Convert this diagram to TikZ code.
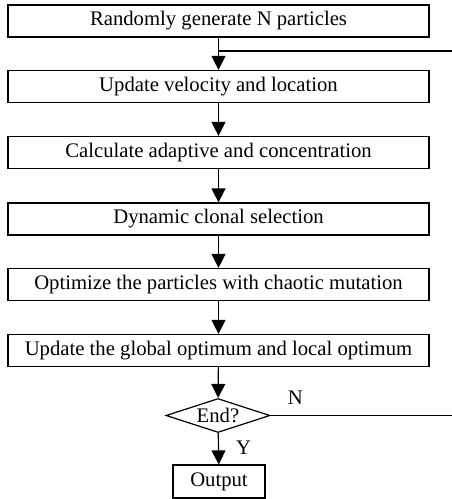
\documentclass[tikz,border=0pt]{standalone}
\usepackage{fontspec}
\setmainfont{Liberation Serif}
\usetikzlibrary{shapes.geometric,arrows.meta}
\begin{document}
\begin{tikzpicture}[x=1pt,y=-1pt,
  line width=1.2pt,
  every node/.style={font=\fontsize{20.7}{23}\selectfont, inner sep=0pt},
  procbox/.style={draw, minimum width=421pt, minimum height=32pt},
  smallbox/.style={draw, minimum width=92pt, minimum height=33pt},
  decision/.style={draw, diamond, aspect=3.06, minimum width=104pt, minimum height=34pt, inner sep=0pt},
  flow/.style={-{Triangle[width=14pt,length=14pt]}},
  lbl/.style={font=\fontsize{20.7}{23}\selectfont}
]
\useasboundingbox (0,0) rectangle (452,499);
\node[procbox] (gen) at (218.5,21) {Randomly generate N particles};
\node[procbox] (upd) at (218.5,86.5) {Update velocity and location};
\node[procbox] (calc) at (218.5,152.5) {Calculate adaptive and concentration};
\node[procbox] (clon) at (218.5,219) {Dynamic clonal selection};
\node[procbox] (opt) at (218.5,284.5) {Optimize the particles with chaotic mutation};
\node[procbox] (glob) at (218.5,350.5) {Update the global optimum and local optimum};
\node[decision] (end) at (218,415.5) {End?};
\node[smallbox] (out) at (219,481.5) {Output};
\coordinate (loopin) at (452,51);
\coordinate (loopout) at (452,415.5);
\draw[flow] (gen) -- (upd);
\draw (loopin) -- (218.5,51);
\draw[flow] (upd) -- (calc);
\draw[flow] (calc) -- (clon);
\draw[flow] (clon) -- (opt);
\draw[flow] (opt) -- (glob);
\draw[flow] (glob) -- (end);
\draw[flow] (end) -- node[lbl, right=17pt, pos=0.48] (ylbl) {Y} (out);
\draw (end.east) -- node[lbl, above=10pt, pos=0.137] (nlbl) {N} (loopout);
\end{tikzpicture}
\end{document}
